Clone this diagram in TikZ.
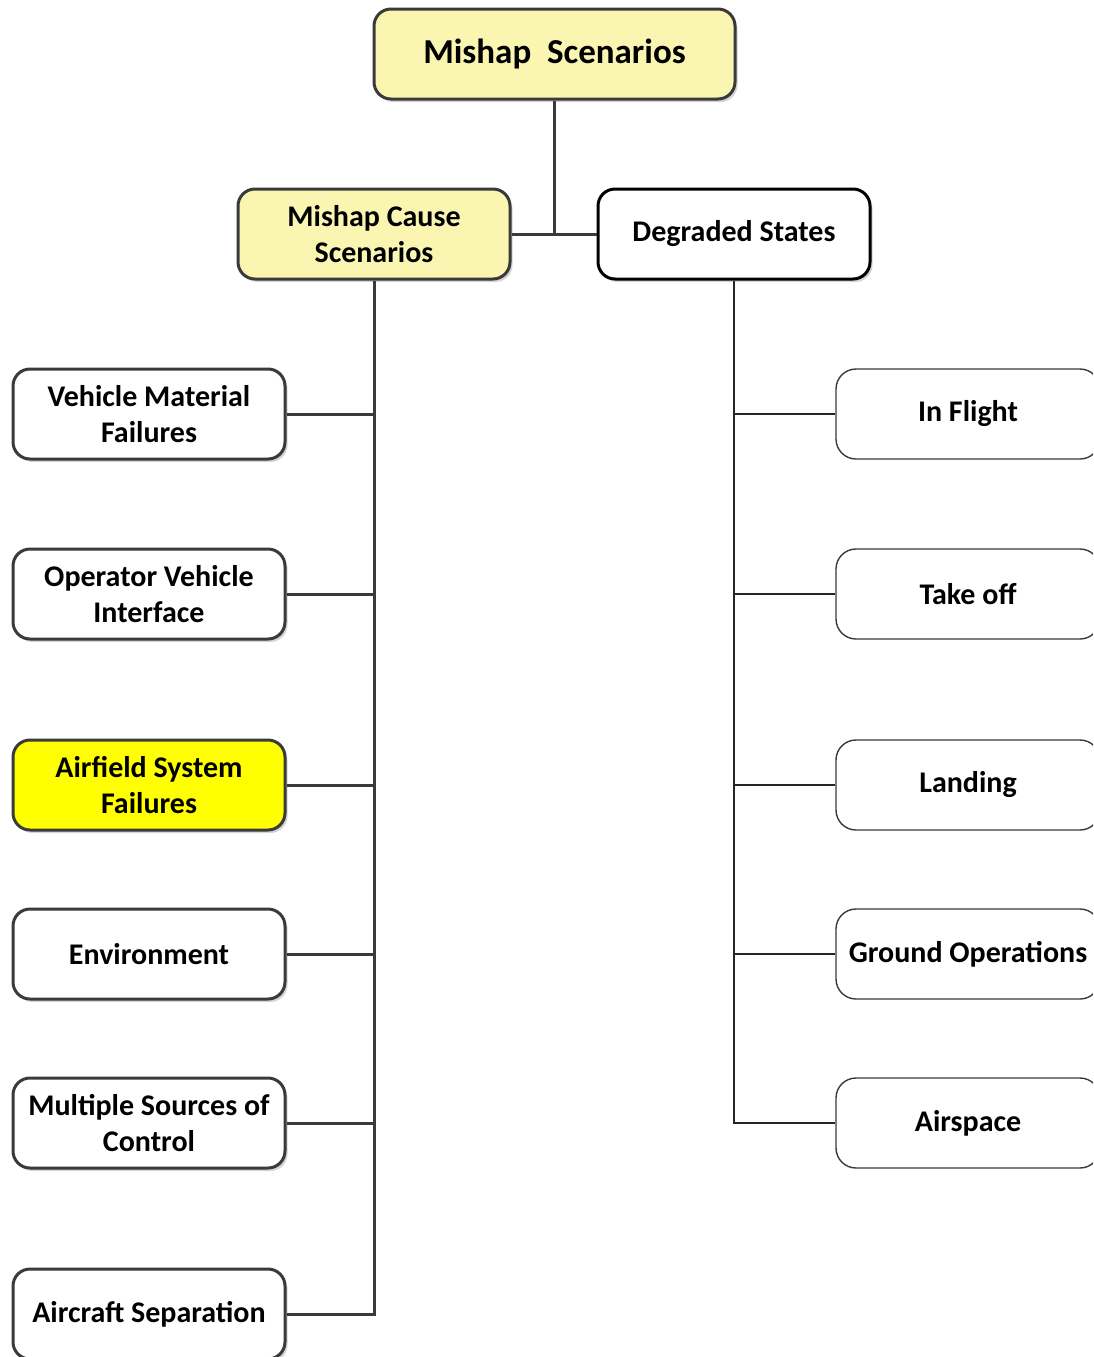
\documentclass[tikz,border=0pt]{standalone}
\usepackage{fontspec}
\setmainfont{Carlito}
\usetikzlibrary{shadows}
\definecolor{paleyellow}{HTML}{FAF6B2}
\definecolor{brightyellow}{HTML}{FFFF00}
\definecolor{boxline}{HTML}{3A3A3A}
\begin{document}
\begin{tikzpicture}[x=1pt,y=-1pt,
  softshadow/.style={drop shadow={shadow xshift=2.5pt, shadow yshift=-3pt, opacity=0.28, fill=black!60}},
  causebox/.style={draw=boxline, line width=3pt, rounded corners=17pt, fill=white,
    minimum width=272pt, minimum height=90pt, align=center, inner sep=2pt,
    font=\fontsize{30}{36}\selectfont\bfseries, softshadow},
  statebox/.style={draw=boxline, line width=1.4pt, rounded corners=20pt, fill=white,
    minimum width=264pt, minimum height=90pt, align=center, inner sep=2pt,
    font=\fontsize{30}{36}\selectfont\bfseries},
  thickconn/.style={draw=boxline, line width=3pt},
  thinconn/.style={draw=black!85, line width=1.4pt}]
\useasboundingbox (0,0) rectangle (1093,1357);
\clip (0,0) rectangle (1093,1357);

% root
\node[causebox, fill=paleyellow, minimum width=361pt, font=\fontsize{35}{40}\selectfont\bfseries]
  (root) at (554.5,54) {Mishap\ \ Scenarios};

% second level
\node[causebox, fill=paleyellow] (cause) at (374,234) {Mishap Cause\\Scenarios};
\node[causebox, draw=black] (degraded) at (734,234) {Degraded States};

% cause branch
\node[causebox] (vmf) at (149,414) {Vehicle Material\\Failures};
\node[causebox] (ovi) at (149,594) {Operator Vehicle\\Interface};
\node[causebox, fill=brightyellow] (asf) at (149,785) {Airfield System\\Failures};
\node[causebox] (env) at (149,954) {Environment};
\node[causebox] (msc) at (149,1123) {Multiple Sources of\\Control};
\node[causebox] (acs) at (149,1314) {Aircraft Separation};

% state branch
\node[statebox] (flight) at (968,414) {In Flight};
\node[statebox] (takeoff) at (968,594) {Take off};
\node[statebox] (landing) at (968,785) {Landing};
\node[statebox] (ground) at (968,954) {Ground Operations};
\node[statebox] (airspace) at (968,1123) {Airspace};

% connectors, top
\draw[thickconn] (root.south) -- (root.south |- cause.east);
\draw[thickconn] (cause.east) -- (degraded.west);

% connectors, cause branch
\draw[thickconn] (cause.south) |- (acs.east);
\foreach \n in {vmf,ovi,asf,env,msc}
  \draw[thickconn] (\n.east) -- (\n.east -| cause.south);

% connectors, state branch
\draw[thinconn] (degraded.south) |- (airspace.west);
\foreach \n in {flight,takeoff,landing,ground}
  \draw[thinconn] (\n.west) -- (\n.west -| degraded.south);
\end{tikzpicture}
\end{document}
